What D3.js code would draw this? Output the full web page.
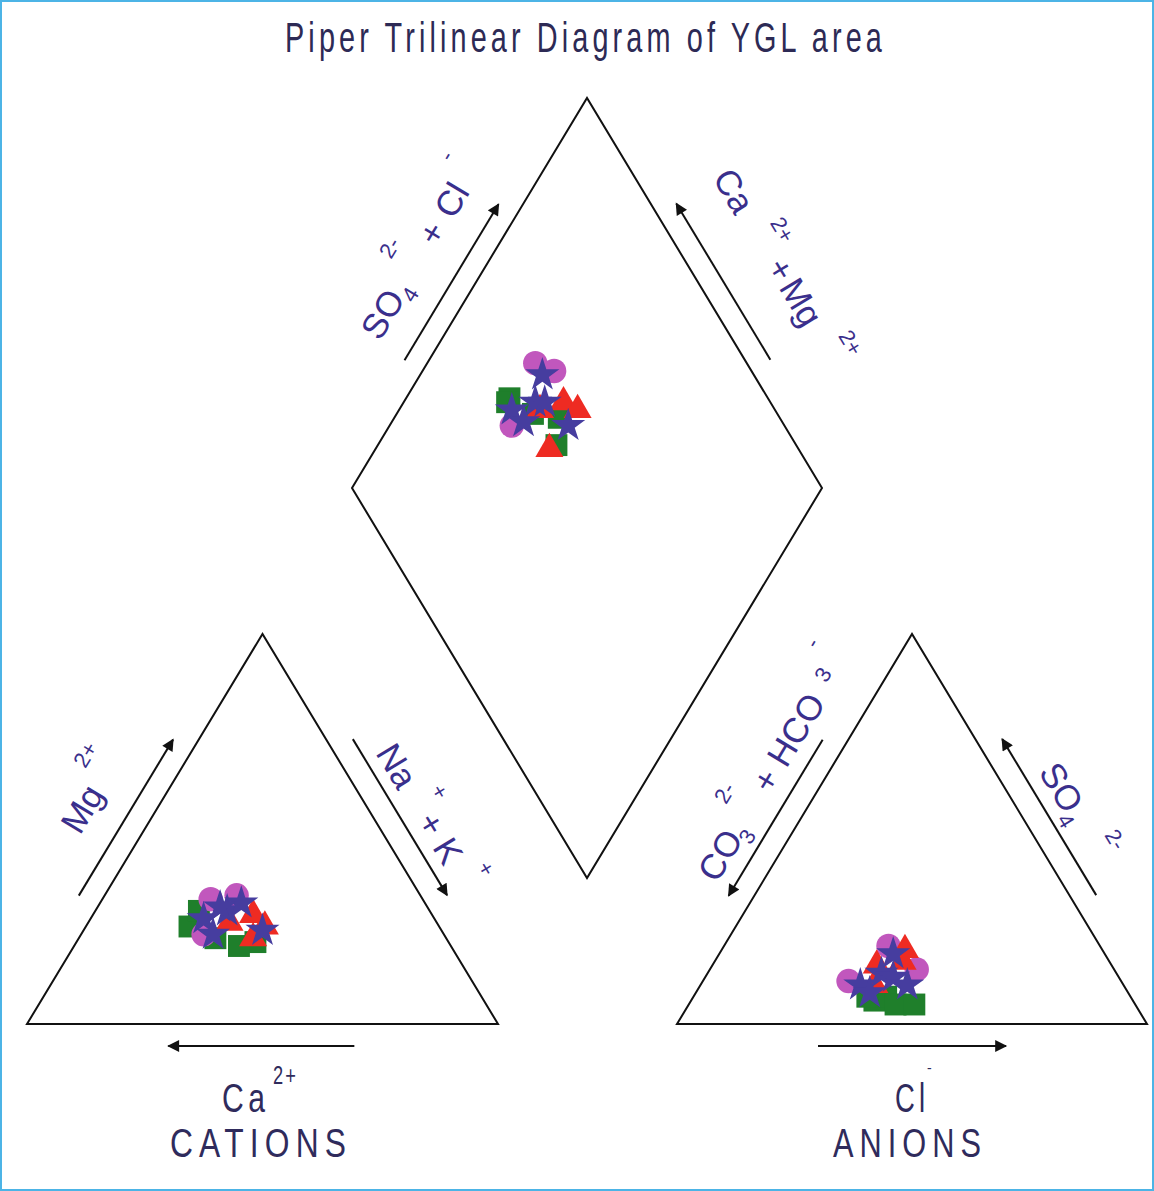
<!DOCTYPE html>
<html>
<head>
<meta charset="utf-8">
<script src="https://cdn.jsdelivr.net/npm/d3@7"></script>
<style>
  html, body { margin: 0; padding: 0; background: #fff; }
  svg { display: block; }
  text { font-family: "Liberation Sans", Arial, sans-serif; }
</style>
</head>
<body>
<svg id="chart" width="1154" height="1191"></svg>
<script>
  // ---- data (meq %) ----
  const title = "Piper Trilinear Diagram of YGL area";
  const groups = ["square", "circle", "triangle", "star"];
  const sampleGroup = ["square","square","square","square","square",
                       "circle","circle","circle",
                       "triangle","triangle","triangle","triangle",
                       "star","star","star","star","star","star"];
  const ca   = [53, 49, 41, 49, 45,  45, 39, 51,  38, 37, 41, 44,  49, 43, 39, 38, 49, 44];
  const mg   = [25, 22, 21, 29, 20,  32, 33, 23,  28, 25, 22, 26,  27, 29, 31, 24, 23, 30];
  const naK  = [22, 29, 38, 22, 35,  23, 28, 26,  34, 38, 37, 30,  24, 28, 30, 38, 28, 26];
  const hco3 = [55, 52, 51, 56, 47,  45, 42, 58,  44, 42, 53, 50,  56, 50, 48, 46, 55, 45];
  const so4  = [ 6,  7,  5,  7,  5,  20, 14, 11,  16, 19, 10, 15,  10, 13, 12, 10,  8, 18];
  const cl   = [39, 41, 44, 37, 48,  35, 44, 31,  40, 39, 37, 35,  34, 37, 40, 44, 37, 37];

  const samples = ca.map((d, i) => ({
    group: sampleGroup[i], ca: ca[i], mg: mg[i], naK: naK[i],
    hco3: hco3[i], so4: so4[i], cl: cl[i]
  }));

  const svg = d3.select('#chart');
  const W = 1154, H = 1191;

  const colors = {square: "#1f7f2b", circle: "#c157bd", triangle: "#ee2b22", star: "#463d9f"};
  const symbols = {square: d3.symbolSquare, circle: d3.symbolCircle, triangle: d3.symbolTriangle, star: d3.symbolStar};
  const sizes = {square: 480, circle: 470, triangle: 340, star: 360};

  // scales
  const catX = d3.scaleLinear().domain([0, 100]).range([27, 498]);
  const catY = d3.scaleLinear().domain([0, 100]).range([1024, 634]);
  const anX = d3.scaleLinear().domain([0, 100]).range([677, 1147]);
  const anY = d3.scaleLinear().domain([0, 100]).range([1024, 634]);
  const diaX = d3.scaleLinear().domain([-100, 100]).range([352, 822]);
  const diaY = d3.scaleLinear().domain([0, 200]).range([878, 98]);

  const catPos = (right, top) => [catX(right + top / 2), catY(top)];
  const anPos = (right, top) => [anX(right + top / 2), anY(top)];
  const diaPos = (caMg, so4Cl) => [diaX(so4Cl - caMg), diaY(caMg + so4Cl)];

  // frame
  svg.append('rect')
    .attr('x', 1).attr('y', 1).attr('width', W - 2).attr('height', H - 2)
    .attr('fill', '#fff').attr('stroke', '#4cb4e6').attr('stroke-width', 2);

  // arrow marker
  svg.append('defs').append('marker')
    .attr('id', 'head').attr('viewBox', '0 0 10 10')
    .attr('refX', 9).attr('refY', 5)
    .attr('markerWidth', 7).attr('markerHeight', 6)
    .attr('markerUnits', 'strokeWidth')
    .attr('orient', 'auto')
    .append('path').attr('d', 'M0,0 L10,5 L0,10 Z').attr('fill', '#111');

  const line = d3.line();

  // outlines
  const catTri = [catPos(0, 0), catPos(100, 0), catPos(0, 100)];
  const anTri = [anPos(0, 0), anPos(100, 0), anPos(0, 100)];
  const diamond = [diaPos(100, 0), diaPos(100, 100), diaPos(0, 100), diaPos(0, 0)];

  [catTri, anTri, diamond].forEach(p => {
    svg.append('path')
      .attr('d', line(p) + 'Z')
      .attr('fill', 'none').attr('stroke', '#111').attr('stroke-width', 2);
  });

  // arrow parallel to an edge, offset to one side
  function edgeArrow(a, b, t0, t1, off, side) {
    const dx = b[0] - a[0], dy = b[1] - a[1];
    const len = Math.hypot(dx, dy);
    const nx = -dy / len * side, ny = dx / len * side;
    const p0 = [a[0] + dx * t0 + nx * off, a[1] + dy * t0 + ny * off];
    const p1 = [a[0] + dx * t1 + nx * off, a[1] + dy * t1 + ny * off];
    svg.append('path')
      .attr('d', line([p0, p1]))
      .attr('stroke', '#111').attr('stroke-width', 2).attr('fill', 'none')
      .attr('marker-end', 'url(#head)');
  }

  // cation triangle arrows
  edgeArrow(catTri[0], catTri[2], 0.30, 0.70, 22, -1);    // Mg up
  edgeArrow(catTri[2], catTri[1], 0.30, 0.70, 23, -1);    // Na+K down
  edgeArrow(catTri[1], catTri[0], 0.305, 0.70, 22, -1);   // Ca left
  // anion triangle arrows
  edgeArrow(anTri[2], anTri[0], 0.30, 0.70, 22, 1);       // CO3+HCO3 down
  edgeArrow(anTri[1], anTri[2], 0.30, 0.70, 23, 1);       // SO4 up
  edgeArrow(anTri[0], anTri[1], 0.30, 0.70, 22, 1);       // Cl right
  // diamond arrows
  edgeArrow(diamond[0], diamond[1], 0.30, 0.70, 21, -1);  // SO4+Cl
  edgeArrow(diamond[2], diamond[1], 0.30, 0.70, 22, 1);   // Ca+Mg

  // samples
  function drawPoints(pos) {
    groups.forEach(g => {
      svg.append('g').selectAll('path')
        .data(samples.filter(s => s.group === g))
        .join('path')
        .attr('d', d3.symbol().type(symbols[g]).size(sizes[g]))
        .attr('transform', d => { const p = pos(d); return `translate(${p[0]},${p[1]})`; })
        .attr('fill', colors[g]);
    });
  }
  drawPoints(d => catPos(d.naK, d.mg));
  drawPoints(d => anPos(d.cl, d.so4));
  drawPoints(d => diaPos(d.ca + d.mg, d.so4 + d.cl));

  // labels
  const labelColor = "#3a2f8c";
  const ang = Math.atan2(catY(100) - catY(0), catX(50) - catX(0)) * 180 / Math.PI;

  function rotLabel(x, y, angle, parts) {
    svg.append('g')
      .attr('transform', `translate(${x},${y}) rotate(${angle})`)
      .selectAll('text').data(parts).join('text')
      .attr('x', d => d.x).attr('y', d => d.y)
      .attr('font-size', d => d.s)
      .attr('fill', labelColor)
      .text(d => d.t);
  }

  rotLabel(380, 342, ang, [
    {t: "SO", x: 0, y: 0, s: 35}, {t: "4", x: 50, y: 9, s: 22},
    {t: "2-", x: 76, y: -33, s: 22}, {t: "+", x: 110, y: 0, s: 34},
    {t: "Cl", x: 142, y: 0, s: 35}, {t: "-", x: 190, y: -32, s: 22}
  ]);
  rotLabel(712, 178, -ang, [
    {t: "Ca", x: 0, y: 0, s: 35}, {t: "2+", x: 68, y: -26, s: 22},
    {t: "+", x: 104, y: 0, s: 34}, {t: "Mg", x: 128, y: 0, s: 35},
    {t: "2+", x: 200, y: -26, s: 22}
  ]);
  rotLabel(80, 836, ang, [
    {t: "Mg", x: 0, y: 0, s: 35}, {t: "2+", x: 60, y: -30, s: 22}
  ]);
  rotLabel(375, 753, -ang, [
    {t: "Na", x: 0, y: 0, s: 35}, {t: "+", x: 60, y: -28, s: 22},
    {t: "+", x: 80, y: 0, s: 34}, {t: "K", x: 110, y: 0, s: 35},
    {t: "+", x: 150, y: -28, s: 22}
  ]);
  rotLabel(717, 884, ang, [
    {t: "CO", x: 0, y: 0, s: 35}, {t: "3", x: 50, y: 9, s: 22},
    {t: "2-", x: 72, y: -33, s: 22}, {t: "+", x: 104, y: 0, s: 34},
    {t: "HCO", x: 134, y: 0, s: 35}, {t: "3", x: 228, y: -10, s: 22},
    {t: "-", x: 252, y: -36, s: 22}
  ]);
  rotLabel(1038, 772, -ang, [
    {t: "SO", x: 0, y: 0, s: 35}, {t: "4", x: 50, y: 9, s: 22},
    {t: "2-", x: 88, y: -24, s: 22}
  ]);

  // horizontal texts: letter-spaced, squeezed horizontally to a target width
  function spaced(t, x, y, len, size, spacing, color) {
    const g = svg.append('g');
    const txt = g.append('text')
      .attr('x', 0).attr('y', 0)
      .attr('font-size', size)
      .attr('letter-spacing', spacing)
      .attr('fill', color)
      .text(t);
    const w = txt.node().getComputedTextLength() - spacing;
    g.attr('transform', `translate(${x},${y}) scale(${len / w},1)`);
  }
  spaced(title, 285, 52, 597, 42, 6, "#2d2a55");
  spaced("Ca", 222, 1112, 43, 40, 6, "#2f2b5c");
  spaced("2+", 273, 1084, 23, 25, 3, "#2f2b5c");
  spaced("CATIONS", 170, 1157, 176, 41, 8, "#2f2b5c");
  spaced("Cl", 895, 1112, 30, 40, 6, "#2f2b5c");
  svg.append('text').attr('x', 927).attr('y', 1073).attr('font-size', 14)
    .attr('fill', '#2f2b5c').text("-");
  spaced("ANIONS", 833, 1157, 148, 41, 8, "#2f2b5c");
</script>
</body>
</html>
